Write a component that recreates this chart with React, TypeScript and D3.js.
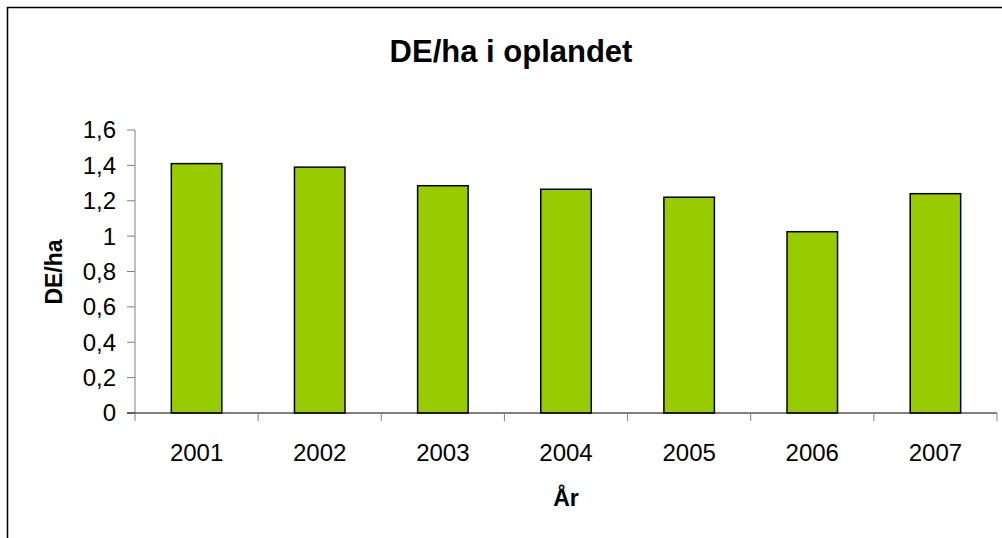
import React from "react";
import * as d3 from "d3";

const years = ["2001", "2002", "2003", "2004", "2005", "2006", "2007"];
const values = [1.41, 1.39, 1.285, 1.265, 1.22, 1.025, 1.24];
const yTicks = [0, 0.2, 0.4, 0.6, 0.8, 1, 1.2, 1.4, 1.6];

const W = 1002;
const H = 538;
const plot = { left: 135, right: 997, top: 130, bottom: 413 };
const font = "Liberation Sans, Arial, sans-serif";

export default function App() {
  const x = d3.scaleBand<string>().domain(years).range([plot.left, plot.right]).paddingInner(0.59).paddingOuter(0.295);
  const xCat = d3.scaleBand<string>().domain(years).range([plot.left, plot.right]);
  const y = d3.scaleLinear().domain([0, 1.6]).range([plot.bottom, plot.top]);
  const fmt = (v: number) => (Math.round(v * 10) / 10).toString().replace(".", ",");
  const catEdges = [...years.map((c) => xCat(c) as number), plot.right];

  return (
    <svg width={W} height={H} style={{ position: "absolute", left: 0, top: 0, background: "#fff" }}>
      <rect x={0} y={0} width={W} height={H} fill="#fff" />
      <rect x={7.5} y={7.5} width={1008} height={560} fill="none" stroke="#000" strokeWidth={1.5} />
      <text x={511} y={62} textAnchor="middle" fontFamily={font} fontWeight="bold" fontSize={31}>
        DE/ha i oplandet
      </text>
      {/* y axis */}
      <line x1={plot.left} x2={plot.left} y1={plot.top} y2={plot.bottom} stroke="#808080" strokeWidth={1} />
      {yTicks.map((t) => (
        <g key={t}>
          <line x1={plot.left - 8} x2={plot.left} y1={y(t)} y2={y(t)} stroke="#808080" strokeWidth={1} />
          <text x={plot.left - 19} y={y(t)} dy="0.35em" textAnchor="end" fontFamily={font} fontSize={24}>
            {fmt(t)}
          </text>
        </g>
      ))}
      {/* bars */}
      {years.map((c, i) => (
        <rect
          key={c}
          x={x(c)}
          y={y(values[i])}
          width={x.bandwidth()}
          height={plot.bottom - y(values[i])}
          fill="#99CC00"
          stroke="#000"
          strokeWidth={1.5}
        />
      ))}
      {/* x axis */}
      <line x1={plot.left - 8} x2={plot.right} y1={plot.bottom} y2={plot.bottom} stroke="#000" strokeWidth={1} />
      {catEdges.map((e, i) => (
        <line key={i} x1={e} x2={e} y1={plot.bottom} y2={plot.bottom + 8} stroke="#808080" strokeWidth={1} />
      ))}
      {years.map((c) => (
        <text
          key={c}
          x={(xCat(c) as number) + xCat.bandwidth() / 2}
          y={461}
          textAnchor="middle"
          fontFamily={font}
          fontSize={24}
        >
          {c}
        </text>
      ))}
      <text x={566} y={506} textAnchor="middle" fontFamily={font} fontWeight="bold" fontSize={23}>
        År
      </text>
      <text
        transform={`translate(62,${272}) rotate(-90)`}
        textAnchor="middle"
        fontFamily={font}
        fontWeight="bold"
        fontSize={23}
      >
        DE/ha
      </text>
    </svg>
  );
}
